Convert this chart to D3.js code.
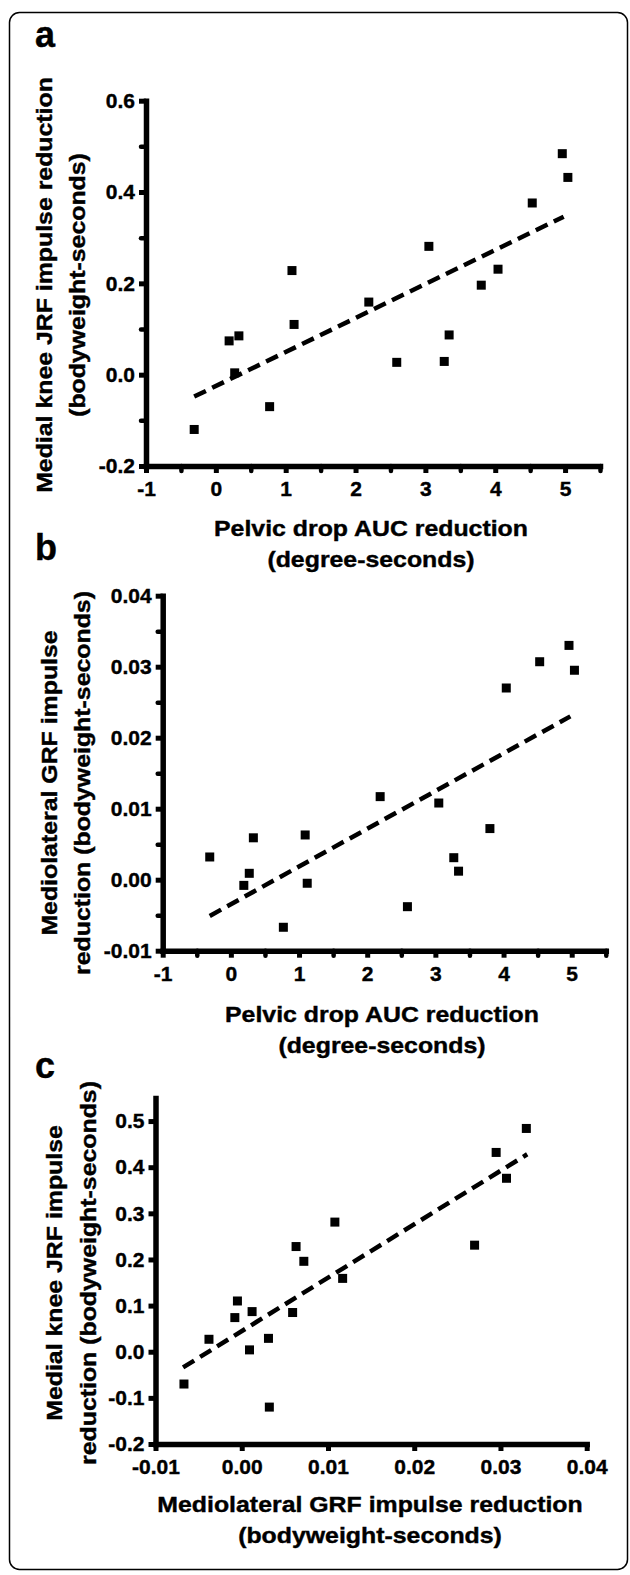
<!DOCTYPE html>
<html>
<head>
<meta charset="utf-8">
<script src="https://cdn.jsdelivr.net/npm/d3@7"></script>
<style>
  body { margin: 0; background: #fff; }
  svg { display: block; font-family: "Liberation Sans", Arial, sans-serif; font-weight: bold; }
  svg text { stroke: #000; stroke-width: 0.4px; }
  .axis path, .axis line { stroke: #000; }
  .axis text { font-size: 21px; font-weight: bold; fill: #000; font-family: "Liberation Sans", Arial, sans-serif; }
</style>
</head>
<body>
<div id="chart"></div>
<script>
// one entry per subject, same order in every array
const pelvicDrop = [-0.31, 0.19, 0.27, 0.33, 0.77, 1.09, 1.12, 2.19, 2.59, 3.05, 3.27, 3.34, 3.80, 4.04, 4.53, 4.96, 5.04];
const kneeJrf    = [-0.120, 0.074, 0.004, 0.085, -0.070, 0.228, 0.110, 0.159, 0.027, 0.281, 0.029, 0.087, 0.196, 0.231, 0.376, 0.484, 0.432];
const mlGrf      = [0.0032, -0.0008, 0.0009, 0.0059, -0.0067, 0.0063, -0.0005, 0.0117, -0.0038, 0.0108, 0.0031, 0.0012, 0.0072, 0.0270, 0.0307, 0.0330, 0.0295];

// fitted lines, endpoints
const fitA = [[-0.31, -0.048], [4.98, 0.346]];
const fitB = [[-0.31, -0.0051], [4.98, 0.0230]];
const fitC = [[-0.0068, -0.034], [0.0331, 0.428]];

// ticks
const pelvicTicks      = [-1, 0, 1, 2, 3, 4, 5];
const pelvicTickLabels = ['-1', '0', '1', '2', '3', '4', '5'];
const pelvicMinor      = [-0.5, 0.5, 1.5, 2.5, 3.5, 4.5, 5.5];
const kneeTicksA       = [-0.2, 0, 0.2, 0.4, 0.6];
const kneeTickLabelsA  = ['-0.2', '0.0', '0.2', '0.4', '0.6'];
const kneeMinorA       = [-0.1, 0.1, 0.3, 0.5];
const grfTicks         = [-0.01, 0, 0.01, 0.02, 0.03, 0.04];
const grfTickLabels    = ['-0.01', '0.00', '0.01', '0.02', '0.03', '0.04'];
const grfMinor         = [-0.005, 0.005, 0.015, 0.025, 0.035];
const kneeTicksC       = [-0.2, -0.1, 0, 0.1, 0.2, 0.3, 0.4, 0.5];
const kneeTickLabelsC  = ['-0.2', '-0.1', '0.0', '0.1', '0.2', '0.3', '0.4', '0.5'];

const STRETCH = 1.13;

const svg = d3.select('#chart').append('svg')
  .attr('width', 630)
  .attr('height', 1575);

svg.append('rect')
  .attr('x', 9.5).attr('y', 12.5)
  .attr('width', 618).attr('height', 1557)
  .attr('rx', 10)
  .attr('fill', 'none')
  .attr('stroke', '#000')
  .attr('stroke-width', 1.5);

function drawPanel(cfg) {
  const x = d3.scaleLinear().domain(cfg.xDomain).range(cfg.xRange);
  const y = d3.scaleLinear().domain(cfg.yDomain).range(cfg.yRange);
  const g = svg.append('g');

  // panel letter
  g.append('text')
    .attr('x', 35).attr('y', cfg.letterY)
    .attr('font-size', 36)
    .text(cfg.letter);

  const x0 = cfg.xRange[0], y0 = cfg.yRange[0];

  // minor ticks first so the axis line sits on top
  if (cfg.xMinor) {
    g.append('g').attr('class', 'axis minor')
      .attr('transform', `translate(0,${y0})`)
      .call(d3.axisBottom(x).tickValues(cfg.xMinor).tickSize(5).tickSizeOuter(0).tickFormat(''))
      .call(s => s.select('.domain').remove())
      .selectAll('line').attr('stroke-width', 4.5).attr('stroke-linecap', 'round');
  }
  if (cfg.yMinor) {
    g.append('g').attr('class', 'axis minor')
      .attr('transform', `translate(${x0},0)`)
      .call(d3.axisLeft(y).tickValues(cfg.yMinor).tickSize(5).tickSizeOuter(0).tickFormat(''))
      .call(s => s.select('.domain').remove())
      .selectAll('line').attr('stroke-width', 4.5).attr('stroke-linecap', 'round');
  }

  const xAxis = g.append('g').attr('class', 'axis')
    .attr('transform', `translate(0,${y0})`)
    .call(d3.axisBottom(x).tickValues(cfg.xTicks).tickSize(7).tickSizeOuter(0)
      .tickFormat((d, i) => cfg.xTickLabels[i]));
  xAxis.select('.domain').attr('stroke-width', 5.5).attr('stroke-linecap', 'square');
  xAxis.selectAll('line').attr('stroke-width', 5);
  xAxis.selectAll('text').attr('y', 30).attr('dy', null);

  const yAxis = g.append('g').attr('class', 'axis')
    .attr('transform', `translate(${x0},0)`)
    .call(d3.axisLeft(y).tickValues(cfg.yTicks).tickSize(7).tickSizeOuter(0)
      .tickFormat((d, i) => cfg.yTickLabels[i]));
  yAxis.select('.domain').attr('stroke-width', 5.5).attr('stroke-linecap', 'square');
  yAxis.selectAll('line').attr('stroke-width', 5);
  yAxis.selectAll('text').attr('x', -11);

  // regression line
  g.append('path')
    .datum(cfg.fit)
    .attr('d', d3.line().x(d => x(d[0])).y(d => y(d[1])))
    .attr('fill', 'none')
    .attr('stroke', '#000')
    .attr('stroke-width', 4.5)
    .attr('stroke-dasharray', '13,7');

  // points
  const pts = cfg.xs.map((v, i) => [v, cfg.ys[i]]);
  g.selectAll('.pt')
    .data(pts)
    .join('rect')
    .attr('class', 'pt')
    .attr('x', d => x(d[0]) - 4.5)
    .attr('y', d => y(d[1]) - 4.5)
    .attr('width', 9)
    .attr('height', 9)
    .attr('fill', '#000');

  // axis titles
  cfg.xTitle.forEach((t, i) => {
    g.append('text')
      .attr('transform', `translate(${cfg.xTitleX},${cfg.xTitleY[i]}) scale(${STRETCH},1)`)
      .attr('text-anchor', 'middle')
      .attr('font-size', 22)
      .text(t);
  });
  cfg.yTitle.forEach((t, i) => {
    g.append('text')
      .attr('transform', `translate(${cfg.yTitleX[i]},${cfg.yTitleY}) rotate(-90) scale(${STRETCH},1)`)
      .attr('text-anchor', 'middle')
      .attr('font-size', 22)
      .text(t);
  });
}

drawPanel({
  letter: 'a', letterY: 47,
  xs: pelvicDrop, ys: kneeJrf, fit: fitA,
  xDomain: [-1, 5.5], xRange: [146, 600],
  yDomain: [-0.2, 0.6], yRange: [466, 100.7],
  xTicks: pelvicTicks, xTickLabels: pelvicTickLabels, xMinor: pelvicMinor,
  yTicks: kneeTicksA, yTickLabels: kneeTickLabelsA, yMinor: kneeMinorA,
  xTitle: ['Pelvic drop AUC reduction', '(degree-seconds)'], xTitleX: 371, xTitleY: [536, 567],
  yTitle: ['Medial knee JRF impulse reduction', '(bodyweight-seconds)'], yTitleX: [52, 85], yTitleY: 285
});

drawPanel({
  letter: 'b', letterY: 560,
  xs: pelvicDrop, ys: mlGrf, fit: fitB,
  xDomain: [-1, 5.5], xRange: [162.7, 605.8],
  yDomain: [-0.01, 0.04], yRange: [950.7, 595.7],
  xTicks: pelvicTicks, xTickLabels: pelvicTickLabels, xMinor: pelvicMinor,
  yTicks: grfTicks, yTickLabels: grfTickLabels, yMinor: grfMinor,
  xTitle: ['Pelvic drop AUC reduction', '(degree-seconds)'], xTitleX: 382, xTitleY: [1022, 1053],
  yTitle: ['Mediolateral GRF impulse', 'reduction (bodyweight-seconds)'], yTitleX: [57, 90], yTitleY: 783
});

drawPanel({
  letter: 'c', letterY: 1078,
  xs: mlGrf, ys: kneeJrf, fit: fitC,
  xDomain: [-0.01, 0.04], xRange: [155.5, 586.7],
  yDomain: [-0.2, 0.55], yRange: [1444, 1098],
  xTicks: grfTicks, xTickLabels: grfTickLabels, xMinor: null,
  yTicks: kneeTicksC, yTickLabels: kneeTickLabelsC, yMinor: null,
  xTitle: ['Mediolateral GRF impulse reduction', '(bodyweight-seconds)'], xTitleX: 370, xTitleY: [1512, 1543],
  yTitle: ['Medial knee JRF impulse', 'reduction (bodyweight-seconds)'], yTitleX: [62, 96], yTitleY: 1273
});
</script>
</body>
</html>
